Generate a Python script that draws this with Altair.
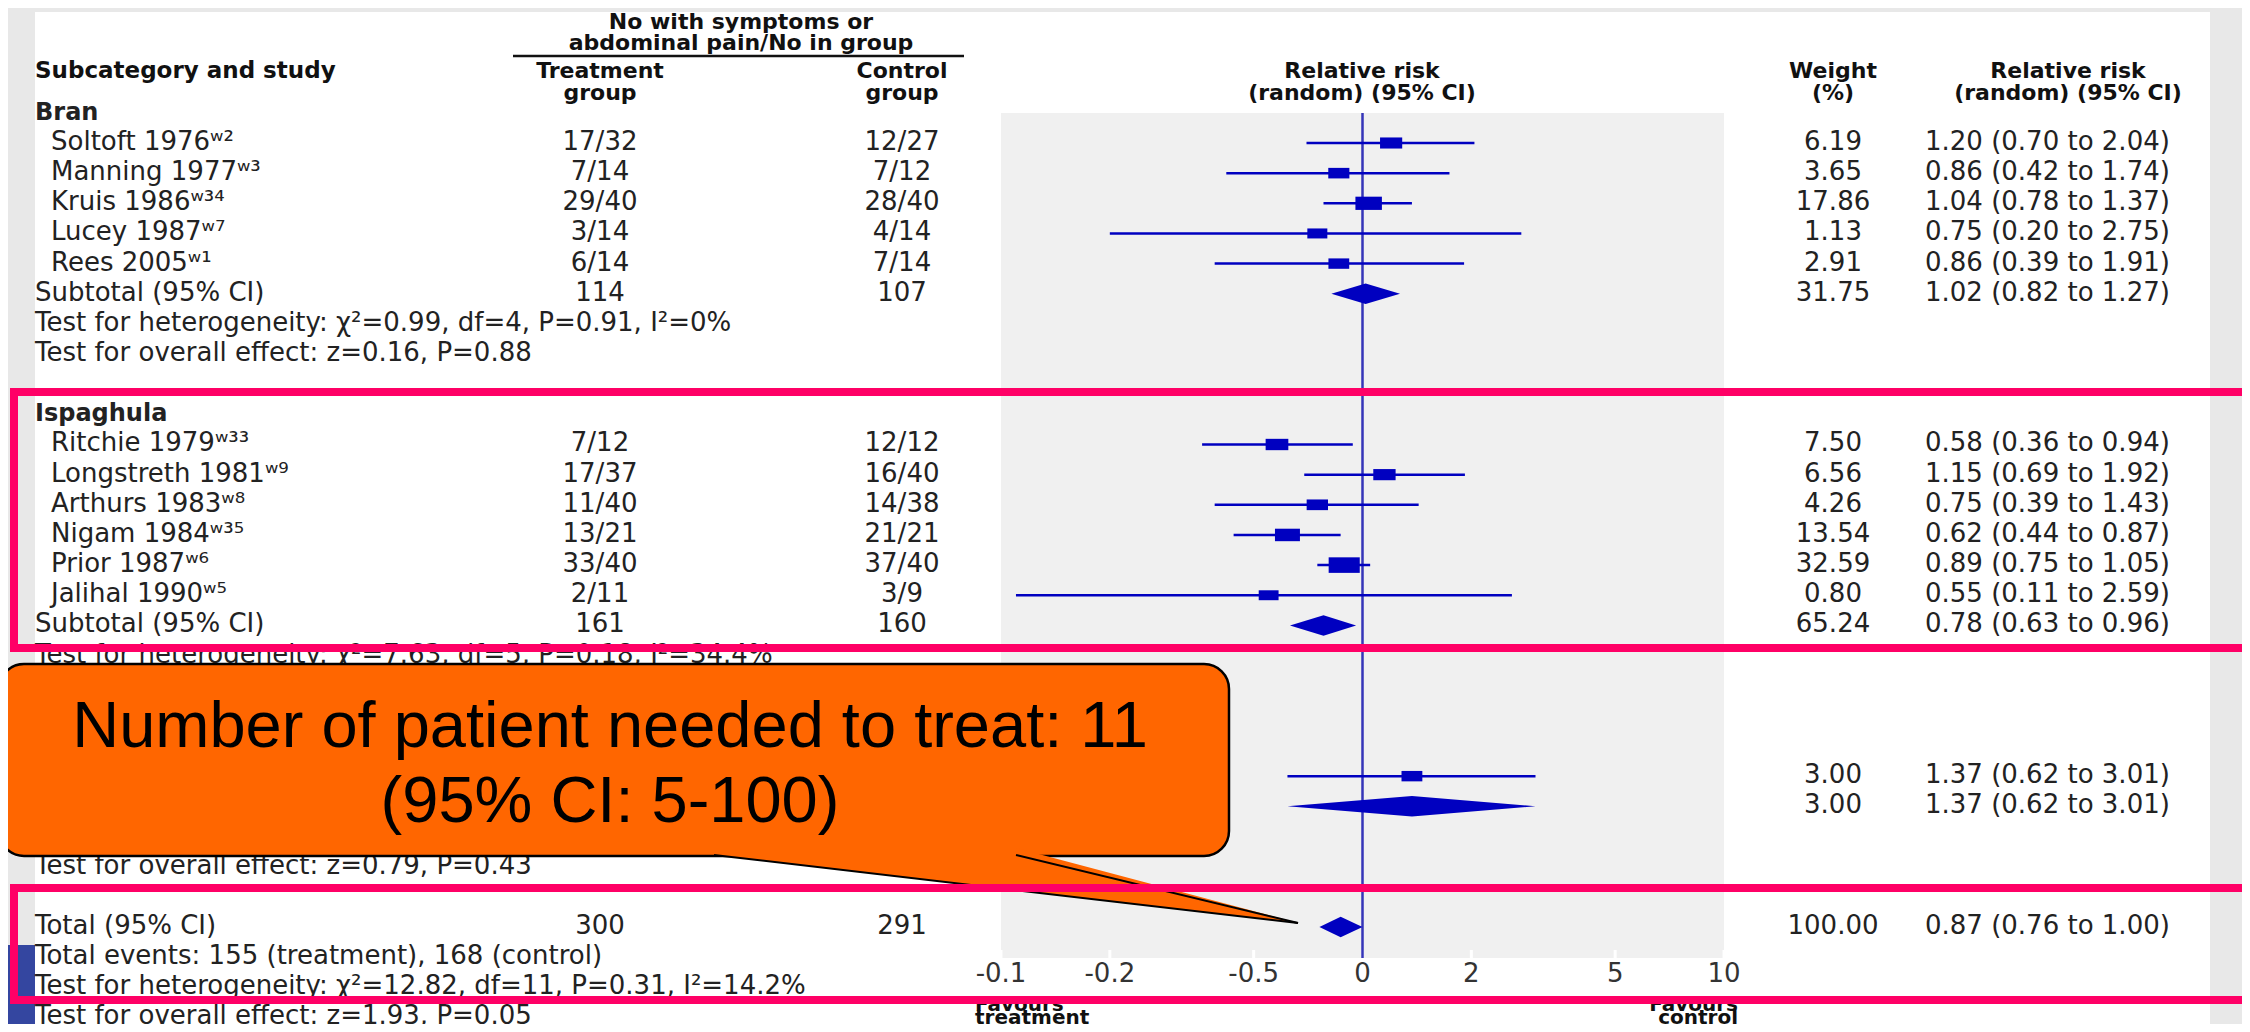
import altair as alt
import pandas as pd

# ------------------------------------------------------------------ data
bran_names = ["Soltoft 1976ʷ²", "Manning 1977ʷ³", "Kruis 1986ʷ³⁴", "Lucey 1987ʷ⁷", "Rees 2005ʷ¹"]
bran_treat = ["17/32", "7/14", "29/40", "3/14", "6/14"]
bran_ctrl = ["12/27", "7/12", "28/40", "4/14", "7/14"]
bran_weight = [6.19, 3.65, 17.86, 1.13, 2.91]
bran_rr = [1.20, 0.86, 1.04, 0.75, 0.86]
bran_lo = [0.70, 0.42, 0.78, 0.20, 0.39]
bran_hi = [2.04, 1.74, 1.37, 2.75, 1.91]

isp_names = ["Ritchie 1979ʷ³³", "Longstreth 1981ʷ⁹", "Arthurs 1983ʷ⁸", "Nigam 1984ʷ³⁵",
             "Prior 1987ʷ⁶", "Jalihal 1990ʷ⁵"]
isp_treat = ["7/12", "17/37", "11/40", "13/21", "33/40", "2/11"]
isp_ctrl = ["12/12", "16/40", "14/38", "21/21", "37/40", "3/9"]
isp_weight = [7.50, 6.56, 4.26, 13.54, 32.59, 0.80]
isp_rr = [0.58, 1.15, 0.75, 0.62, 0.89, 0.55]
isp_lo = [0.36, 0.69, 0.39, 0.44, 0.75, 0.11]
isp_hi = [0.94, 1.92, 1.43, 0.87, 1.05, 2.59]

# third subgroup (its labels are hidden behind the callout)
third_weight = [3.00]
third_rr = [1.37]
third_lo = [0.62]
third_hi = [3.01]

sub_label = ["Subtotal (95% CI)", "Subtotal (95% CI)", "", "Total (95% CI)"]
sub_treat = ["114", "161", "", "300"]
sub_ctrl = ["107", "160", "", "291"]
sub_weight = [31.75, 65.24, 3.00, 100.00]
sub_rr = [1.02, 0.78, 1.37, 0.87]
sub_lo = [0.82, 0.63, 0.62, 0.76]
sub_hi = [1.27, 0.96, 3.01, 1.00]

group_heads = ["Bran", "Ispaghula"]
notes_text = [
    "Test for heterogeneity: χ²=0.99, df=4, P=0.91, I²=0%",
    "Test for overall effect: z=0.16, P=0.88",
    "Test for heterogeneity: χ²=7.63, df=5, P=0.18, I²=34.4%",
    "Test for overall effect: z=0.79, P=0.43",
    "Total events: 155 (treatment), 168 (control)",
    "Test for heterogeneity: χ²=12.82, df=11, P=0.31, I²=14.2%",
    "Test for overall effect: z=1.93, P=0.05",
]
tick_vals = [0.1, 0.2, 0.5, 1, 2, 5, 10]
tick_labels = ["-0.1", "-0.2", "-0.5", "0", "2", "5", "10"]
callout_lines = ["Number of patient needed to treat: 11", "(95% CI: 5-100)"]

# ------------------------------------------------------------------ layout (row numbers)
bran_rows = [1, 2, 3, 4, 5]
isp_rows = [11, 12, 13, 14, 15, 16]
third_rows = [22]
sub_rows = [6, 17, 23, 27]
head_rows = [0, 10]
note_rows = [7, 8, 18, 25, 28, 29, 30]

FONT = "DejaVu Sans"
FS = 26
HFS = 22
BLUE = "#0000c0"
REF = "#3535b8"
PINK = "#ff0066"
ORANGE = "#ff6600"
PANEL = "#f0f0f0"
BG = "#e8e8e8"
TXT = "#222222"
W, H = 2234, 1016


def xs():
    return alt.Scale(type="log", domain=[0.1, 10], range=[993, 1716])


def ys():
    return alt.Scale(domain=[-3.4776, 30.2206], range=[0, H], nice=False, zero=False)


def pxs():
    return alt.Scale(domain=[0, W], range=[0, W], nice=False, zero=False)


def pys():
    return alt.Scale(domain=[0, H], range=[0, H], nice=False, zero=False)


studies = pd.DataFrame({
    "row": bran_rows + isp_rows + third_rows,
    "name": bran_names + isp_names + [""],
    "treat": bran_treat + isp_treat + [""],
    "ctrl": bran_ctrl + isp_ctrl + [""],
    "w": bran_weight + isp_weight + third_weight,
    "rr": bran_rr + isp_rr + third_rr,
    "lo": bran_lo + isp_lo + third_lo,
    "hi": bran_hi + isp_hi + third_hi,
})
subs = pd.DataFrame({
    "row": sub_rows, "name": sub_label, "treat": sub_treat, "ctrl": sub_ctrl,
    "w": sub_weight, "rr": sub_rr, "lo": sub_lo, "hi": sub_hi,
})
allrows = pd.concat([studies, subs], ignore_index=True)
allrows["wtxt"] = allrows["w"].map(lambda v: f"{v:.2f}")
allrows["rrtxt"] = [f"{a:.2f} ({b:.2f} to {c:.2f})" for a, b, c in
                    zip(allrows["rr"], allrows["lo"], allrows["hi"])]

# diamonds
dia = []
for i, r in subs.iterrows():
    dia.append({"g": i, "x": r["lo"], "ya": r["row"], "yb": r["row"]})
    dia.append({"g": i, "x": r["rr"], "ya": r["row"] - 0.34, "yb": r["row"] + 0.34})
    dia.append({"g": i, "x": r["hi"], "ya": r["row"], "yb": r["row"]})
dia = pd.DataFrame(dia)

heads = pd.DataFrame({"row": head_rows, "t": group_heads})
notes = pd.DataFrame({"row": note_rows, "t": notes_text})
ticks = pd.DataFrame({"v": tick_vals, "t": tick_labels})
one = pd.DataFrame({"a": [0]})
panel_df = pd.DataFrame({"lo": [tick_vals[0]], "hi": [tick_vals[-1]]})
ref_df = pd.DataFrame({"v": [1.0]})

YR = alt.Y("row:Q", scale=ys(), axis=None)

layers = []
# white page
layers.append(alt.Chart(one).mark_rect(color="white").encode(
    x=alt.value(27), x2=alt.value(2202), y=alt.value(4), y2=alt.value(1030)))
# forest panel
layers.append(alt.Chart(panel_df).mark_rect(color=PANEL).encode(
    x=alt.X("lo:Q", scale=xs(), axis=None), x2="hi:Q", y=alt.value(105), y2=alt.value(950)))
# image fragment bottom-left
layers.append(alt.Chart(one).mark_rect(color="#3446a0").encode(
    x=alt.value(0), x2=alt.value(27), y=alt.value(937), y2=alt.value(1016)))
# small white ticks
layers.append(alt.Chart(ticks).mark_rule(color="white", strokeWidth=3).encode(
    x=alt.X("v:Q", scale=xs(), axis=None), y=alt.value(942), y2=alt.value(950)))
# reference line at RR = 1
layers.append(alt.Chart(ref_df).mark_rule(color=REF, strokeWidth=2.5).encode(
    x=alt.X("v:Q", scale=xs(), axis=None), y=alt.value(105), y2=alt.value(950)))
# confidence intervals
layers.append(alt.Chart(studies).mark_rule(color=BLUE, strokeWidth=2.5).encode(
    x=alt.X("lo:Q", scale=xs(), axis=None), x2="hi:Q", y=YR))
# weight boxes
RECT = "M-1,-0.5L1,-0.5L1,0.5L-1,0.5Z"
layers.append(alt.Chart(studies).mark_point(shape=RECT, filled=True, opacity=1, color=BLUE, strokeWidth=0).encode(
    x=alt.X("rr:Q", scale=xs(), axis=None), y=YR,
    size=alt.Size("w:Q", scale=alt.Scale(domain=[0, max(isp_weight + bran_weight)], range=[380, 967]),
                  legend=None)))
# diamonds
layers.append(alt.Chart(dia).mark_area(color=BLUE, orient="vertical", opacity=1).encode(
    x=alt.X("x:Q", scale=xs(), axis=None),
    y=alt.Y("ya:Q", scale=ys(), axis=None), y2="yb:Q", detail="g:N"))


def txt(df, field, x, align="left", bold=False, size=FS, color=TXT):
    return alt.Chart(df).mark_text(
        align=align, baseline="alphabetic", dy=7, font=FONT, fontSize=size,
        fontWeight="bold" if bold else "normal", color=color
    ).encode(x=alt.value(x), y=YR, text=f"{field}:N")


layers.append(txt(heads, "t", 27, bold=True, size=24))
layers.append(txt(studies, "name", 43))
layers.append(txt(subs, "name", 27))
layers.append(txt(notes, "t", 27))
layers.append(txt(allrows, "treat", 592, align="center"))
layers.append(txt(allrows, "ctrl", 894, align="center"))
layers.append(txt(allrows, "wtxt", 1825, align="center"))
layers.append(txt(allrows, "rrtxt", 1917))

# x tick labels (log scale positions)
layers.append(alt.Chart(ticks).mark_text(
    baseline="alphabetic", font=FONT, fontSize=FS, color="#333333").encode(
    x=alt.X("v:Q", scale=xs(), axis=None), y=alt.value(974), text="t:N"))


def htxt(t, x, y, align="center", bold=True, size=HFS):
    return alt.Chart(pd.DataFrame({"t": [t]})).mark_text(
        align=align, baseline="alphabetic", font=FONT, fontSize=size,
        fontWeight="bold" if bold else "normal", color="#111111"
    ).encode(x=alt.value(x), y=alt.value(y), text="t:N")


layers += [
    htxt("No with symptoms or", 733, 21),
    htxt("abdominal pain/No in group", 733, 42),
    htxt("Subcategory and study", 27, 70, align="left", size=23),
    htxt("Treatment", 592, 70), htxt("group", 592, 92),
    htxt("Control", 894, 70), htxt("group", 894, 92),
    htxt("Relative risk", 1354, 70), htxt("(random) (95% CI)", 1354, 92),
    htxt("Weight", 1825, 70), htxt("(%)", 1825, 92),
    htxt("Relative risk", 2060, 70), htxt("(random) (95% CI)", 2060, 92),
    htxt("Favours", 967, 1003, align="left", size=20), htxt("treatment", 967, 1016, align="left", size=20),
    htxt("Favours", 1730, 1003, align="right", size=20), htxt("control", 1730, 1016, align="right", size=20),
]
# header underline
layers.append(alt.Chart(one).mark_rule(color="#111111", strokeWidth=2.5).encode(
    x=alt.value(505), x2=alt.value(956), y=alt.value(48)))

# ---------------------------------------------------------------- callout
layers.append(alt.Chart(one).mark_rect(color=ORANGE, cornerRadius=25, stroke="black", strokeWidth=2.5).encode(
    x=alt.value(-9), x2=alt.value(1221), y=alt.value(656), y2=alt.value(848)))
ptr_x = [706, 1008, 1290]
ptr_y = [847, 847, 915]
tri = pd.DataFrame({
    "x": ptr_x,
    "ya": [ptr_y[0] - 7, ptr_y[1] - 7, ptr_y[2]],
    "yb": [ptr_y[0], ptr_y[0] + (ptr_x[1] - ptr_x[0]) * (ptr_y[2] - ptr_y[0]) / (ptr_x[2] - ptr_x[0]), ptr_y[2]],
})
layers.append(alt.Chart(tri).mark_area(color=ORANGE, orient="vertical", opacity=1).encode(
    x=alt.X("x:Q", scale=pxs(), axis=None), y=alt.Y("ya:Q", scale=pys(), axis=None), y2="yb:Q"))
edges = pd.DataFrame({
    "g": ["l", "l", "r", "r"],
    "x": [ptr_x[0], ptr_x[2], ptr_x[1], ptr_x[2]],
    "y": [ptr_y[0], ptr_y[2], ptr_y[1], ptr_y[2]],
})
layers.append(alt.Chart(edges).mark_line(color="black", strokeWidth=2).encode(
    x=alt.X("x:Q", scale=pxs(), axis=None), y=alt.Y("y:Q", scale=pys(), axis=None), detail="g:N"))
for line, yb in zip(callout_lines, [739, 814]):
    layers.append(alt.Chart(pd.DataFrame({"t": [line]})).mark_text(
        align="center", baseline="alphabetic", font="Liberation Sans", fontSize=65, color="black").encode(
        x=alt.value(602), y=alt.value(yb), text="t:N"))

# ---------------------------------------------------------------- pink highlight boxes
for y1, y2 in [(384, 640), (880, 992)]:
    layers.append(alt.Chart(one).mark_rect(fillOpacity=0, stroke=PINK, strokeWidth=8).encode(
        x=alt.value(6), x2=alt.value(2300), y=alt.value(y1), y2=alt.value(y2)))

chart = alt.layer(*layers).resolve_scale(
    x="independent", y="independent", size="independent"
).properties(
    width=W, height=H, background=BG, padding=0, autosize="none"
).configure_view(stroke=None)

chart.save("out.html", embed_options={"renderer": "svg", "actions": False})
